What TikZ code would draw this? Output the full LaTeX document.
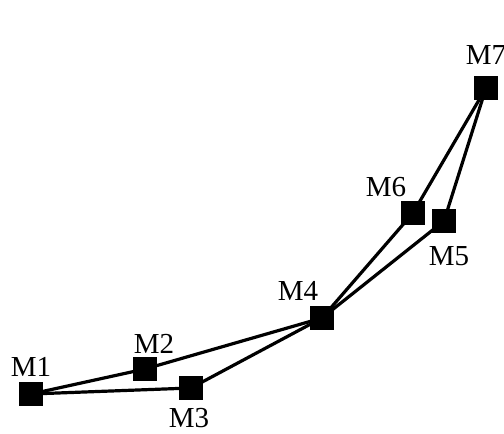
\documentclass[tikz,border=0pt]{standalone}
\usepackage{fontspec}
\setmainfont{Liberation Serif}
\tikzset{
  station/.style={fill=black,minimum size=24pt,inner sep=0pt},
  lbl/.style={font=\fontsize{29}{30}\selectfont,inner sep=1pt},
  link/.style={line width=3.2pt}
}
\begin{document}
\begin{tikzpicture}[x=1pt,y=-1pt]
  \useasboundingbox (0,0) rectangle (504,434);
  \node[station] (m1) at (31,394) {};
  \node[station] (m2) at (145,369) {};
  \node[station] (m3) at (191,388) {};
  \node[station] (m4) at (322,318) {};
  \node[station] (m5) at (444,221) {};
  \node[station] (m6) at (413,213) {};
  \node[station] (m7) at (486,88) {};
  \node[lbl] (l1) at (31,367) {M1};
  \node[lbl] (l2) at (154,344) {M2};
  \node[lbl] (l3) at (189,418) {M3};
  \node[lbl] (l4) at (298,291) {M4};
  \node[lbl] (l5) at (449,256) {M5};
  \node[lbl] (l6) at (386,187) {M6};
  \node[lbl] (l7) at (486,55) {M7};
  \draw[link] (m1.center) -- (m2.center) -- (m4.center) -- (m6.center) -- (m7.center);
  \draw[link] (m1.center) -- (m3.center) -- (m4.center) -- (m5.center) -- (m7.center);
\end{tikzpicture}
\end{document}
